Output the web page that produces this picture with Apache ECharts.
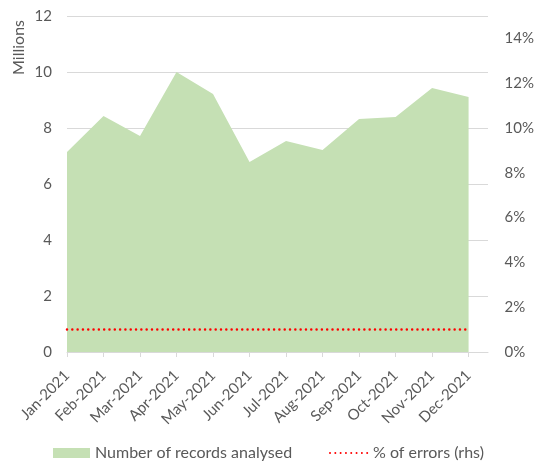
<!DOCTYPE html>
<html>
<head>
<meta charset="utf-8">
<script src="https://cdn.jsdelivr.net/npm/echarts@6/dist/echarts.min.js"></script>
<style>html,body{margin:0;padding:0;background:#fff}#c{width:537px;height:463px}</style>
</head>
<body>
<div id="c"></div>
<script>
const categories = ['Jan-2021','Feb-2021','Mar-2021','Apr-2021','May-2021','Jun-2021','Jul-2021','Aug-2021','Sep-2021','Oct-2021','Nov-2021','Dec-2021'];
const records = [7.14, 8.43, 7.71, 10.0, 9.21, 6.79, 7.54, 7.21, 8.32, 8.39, 9.43, 9.11];
const errorsPct = [0.01, 0.01, 0.01, 0.01, 0.01, 0.01, 0.01, 0.01, 0.01, 0.01, 0.01, 0.01];
const leftTicks = [0, 2, 4, 6, 8, 10, 12];
const rightTicks = ['0%','2%','4%','6%','8%','10%','12%','14%'];
const seriesNames = ['Number of records analysed', '% of errors (rhs)'];

const FONT = 'Lato';
const TXT = '#595959';
const GRID = '#d9d9d9';

const chart = echarts.init(document.getElementById('c'));
chart.setOption({
  animation: false,
  textStyle: { fontFamily: FONT },
  grid: [
    { left: 67, top: 16, width: 403, height: 336, containLabel: false },
    { left: 67, top: 16, width: 421, height: 336, containLabel: false }
  ],
  xAxis: [
    { type: 'category', gridIndex: 0, data: categories, boundaryGap: false,
      axisLine: { show: false },
      axisTick: { show: true, length: 5, lineStyle: { color: GRID } },
      axisLabel: { rotate: 45, color: TXT, fontSize: 15, fontFamily: FONT, margin: 21, interval: 0 },
      splitLine: { show: false } },
    { type: 'value', gridIndex: 1, min: 0, max: 1,
      axisLine: { show: true, lineStyle: { color: GRID, width: 1 } },
      axisTick: { show: false }, axisLabel: { show: false }, splitLine: { show: false } }
  ],
  yAxis: [
    { type: 'value', gridIndex: 0, min: leftTicks[0], max: leftTicks[leftTicks.length-1], interval: 2,
      axisLine: { show: false }, axisTick: { show: false }, splitLine: { show: false },
      axisLabel: { color: TXT, fontSize: 15, fontFamily: FONT, margin: 15 } },
    { type: 'value', gridIndex: 0, position: 'right', offset: 18, min: 0, max: 0.15, interval: 0.02,
      axisLine: { show: false }, axisTick: { show: false }, splitLine: { show: false },
      axisLabel: { color: TXT, fontSize: 15, fontFamily: FONT, margin: 18,
        formatter: function (v) { const i = Math.round(v / 0.02); return Math.abs(v - i * 0.02) < 1e-9 ? rightTicks[i] || '' : ''; } } },
    { type: 'value', gridIndex: 1, min: 0, max: 12, interval: 2,
      axisLine: { show: false }, axisTick: { show: false }, axisLabel: { show: false },
      splitLine: { show: true, lineStyle: { color: GRID, width: 1 } } }
  ],
  legend: [
    { left: 53, top: 445, padding: 0, itemWidth: 37, itemHeight: 10, itemGap: 6,
      textStyle: { color: TXT, fontSize: 16, fontFamily: FONT },
      data: [{ name: seriesNames[0], icon: 'rect', itemStyle: { color: '#c5e0b4' } }] },
    { left: 329, top: 445, padding: 0, itemWidth: 38, itemHeight: 10,
      itemStyle: { opacity: 0 },
      textStyle: { color: TXT, fontSize: 16, fontFamily: FONT },
      data: [{ name: seriesNames[1] }] }
  ],
  graphic: [
    { type: 'text', left: 11, top: 20, rotation: Math.PI / 2,
      style: { text: 'Millions', fill: TXT, font: '16px ' + FONT } }
  ],
  series: [
    { name: seriesNames[0], type: 'line', xAxisIndex: 0, yAxisIndex: 0, data: records,
      symbol: 'none', lineStyle: { width: 0, color: '#c5e0b4' }, itemStyle: { color: '#c5e0b4' },
      areaStyle: { color: '#c5e0b4', opacity: 1 } },
    { name: seriesNames[1], type: 'line', xAxisIndex: 0, yAxisIndex: 1, data: errorsPct,
      symbol: 'none', itemStyle: { color: '#ff0000' },
      lineStyle: { color: '#ff0000', width: 2.5, type: [0.01, 5.3], cap: 'round' } }
  ]
});
</script>
</body>
</html>
